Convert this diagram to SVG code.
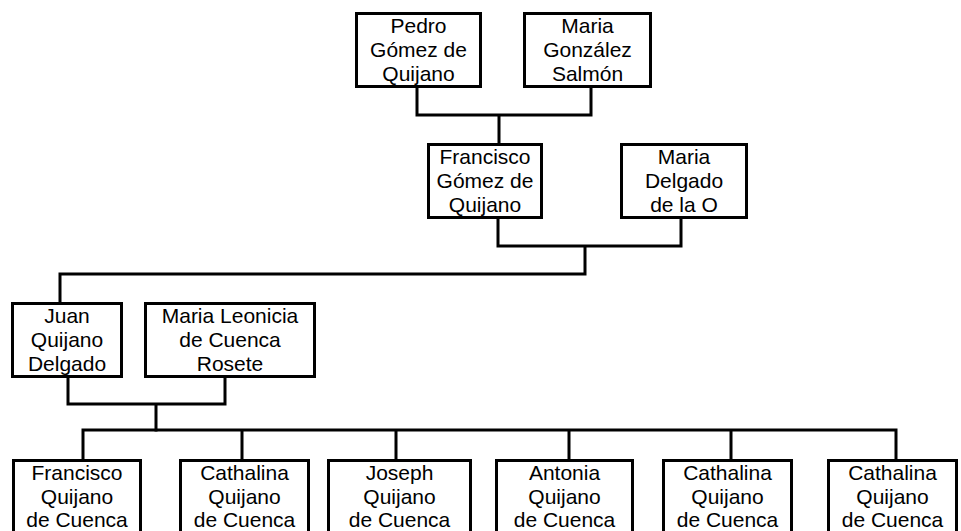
<svg xmlns="http://www.w3.org/2000/svg" width="961" height="531" viewBox="0 0 961 531">
<style>
.box{fill:#fff;stroke:#000;stroke-width:3}
.t{font-family:"Liberation Sans",Arial,sans-serif;font-size:21px;fill:#000;text-anchor:middle}
.c{fill:none;stroke:#000;stroke-width:3;stroke-linecap:square}
</style>
<rect width="961" height="531" fill="#fff"/>
<g id="connectors">
<path class="c" d="M417,88 V115 H591 V88 M499,115 V143"/>
<path class="c" d="M498,219 V246 H681 V219 M585,246 V274 H60 V302"/>
<path class="c" d="M68,378 V404 H225 V378 M156,404 V430"/>
<path class="c" d="M83,459 V430 H896 V459 M242,430 V459 M396,430 V459 M569,430 V459 M731,430 V459"/>
</g>
<g id="pedro"><rect class="box" x="356.5" y="13.5" width="124" height="73"/>
<text class="t" x="418.5" y="33">Pedro</text><text class="t" x="418.5" y="57">Gómez de</text><text class="t" x="418.5" y="81">Quijano</text></g>
<g id="maria-gonzalez"><rect class="box" x="524.5" y="13.5" width="126" height="73"/>
<text class="t" x="587.5" y="33">Maria</text><text class="t" x="587.5" y="57">González</text><text class="t" x="587.5" y="81">Salmón</text></g>
<g id="francisco-gomez"><rect class="box" x="428.5" y="144.5" width="113" height="73"/>
<text class="t" x="485" y="164">Francisco</text><text class="t" x="485" y="188">Gómez de</text><text class="t" x="485" y="212">Quijano</text></g>
<g id="maria-delgado"><rect class="box" x="621.5" y="144.5" width="125" height="73"/>
<text class="t" x="684" y="164">Maria</text><text class="t" x="684" y="188">Delgado</text><text class="t" x="684" y="212">de la O</text></g>
<g id="juan"><rect class="box" x="12.5" y="303.5" width="109" height="73"/>
<text class="t" x="67" y="323">Juan</text><text class="t" x="67" y="347">Quijano</text><text class="t" x="67" y="371">Delgado</text></g>
<g id="maria-leonicia"><rect class="box" x="145.5" y="303.5" width="169" height="73"/>
<text class="t" x="230" y="323">Maria Leonicia</text><text class="t" x="230" y="347">de Cuenca</text><text class="t" x="230" y="371">Rosete</text></g>
<g id="child1"><rect class="box" x="13.5" y="460.5" width="127" height="100"/>
<text class="t" x="77" y="480">Francisco</text><text class="t" x="77" y="504">Quijano</text><text class="t" x="77" y="527">de Cuenca</text></g>
<g id="child2"><rect class="box" x="180.5" y="460.5" width="128" height="100"/>
<text class="t" x="244.5" y="480">Cathalina</text><text class="t" x="244.5" y="504">Quijano</text><text class="t" x="244.5" y="527">de Cuenca</text></g>
<g id="child3"><rect class="box" x="328.5" y="460.5" width="142" height="100"/>
<text class="t" x="399.5" y="480">Joseph</text><text class="t" x="399.5" y="504">Quijano</text><text class="t" x="399.5" y="527">de Cuenca</text></g>
<g id="child4"><rect class="box" x="496.5" y="460.5" width="136" height="100"/>
<text class="t" x="564.5" y="480">Antonia</text><text class="t" x="564.5" y="504">Quijano</text><text class="t" x="564.5" y="527">de Cuenca</text></g>
<g id="child5"><rect class="box" x="663.5" y="460.5" width="128" height="100"/>
<text class="t" x="727.5" y="480">Cathalina</text><text class="t" x="727.5" y="504">Quijano</text><text class="t" x="727.5" y="527">de Cuenca</text></g>
<g id="child6"><rect class="box" x="828.5" y="460.5" width="128" height="100"/>
<text class="t" x="892.5" y="480">Cathalina</text><text class="t" x="892.5" y="504">Quijano</text><text class="t" x="892.5" y="527">de Cuenca</text></g>
</svg>
